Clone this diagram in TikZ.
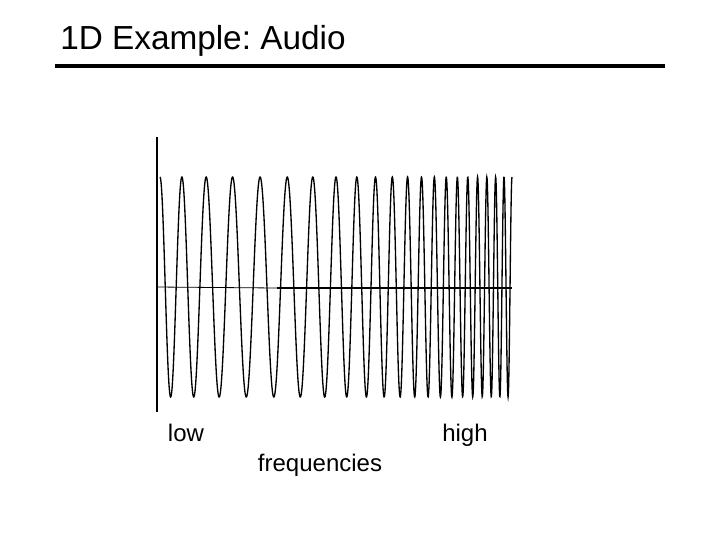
\documentclass[tikz,border=0pt]{standalone}
\usepackage{fontspec}
\setmainfont{Liberation Sans}
\frenchspacing
\begin{document}
\begin{tikzpicture}[x=0.75pt, y=-0.75pt]
      \useasboundingbox (0,0) rectangle (720,540);
      % Title
      \node[anchor=west, inner sep=0pt, font=\fontsize{25}{29}\selectfont] at (60,41) (title) {1D Example: Audio};
      \draw[line width=3pt] (55,66) -- (665,66);
      % Axes
      \coordinate (ytop) at (157,137);
      \coordinate (ybot) at (157,412);
      \coordinate (xleft) at (157,287);
      \coordinate (xmid) at (277,288);
      \coordinate (xright) at (512,288);
      \draw[line width=1.2pt] (ytop) -- (ybot);
      \draw[line width=0.6pt] (xleft) -- (xmid);
      \draw[line width=1.5pt] (xmid) -- (xright);
      % Signal
      \draw[line width=1pt] plot[domain=0:1, samples=1500]
        ({160+352*\x}, {287-110*cos(360*(17*\x-16*\x^2+20*\x^3))});
      % Labels
      \node[anchor=base, inner sep=0pt, font=\fontsize{18}{21}\selectfont] at (186,441) (low) {low};
      \node[anchor=base, inner sep=0pt, font=\fontsize{18}{21}\selectfont] at (465,441) (high) {high};
      \node[anchor=base, inner sep=0pt, font=\fontsize{18}{21}\selectfont] at (320,471) (freq) {frequencies};
\end{tikzpicture}
\end{document}
